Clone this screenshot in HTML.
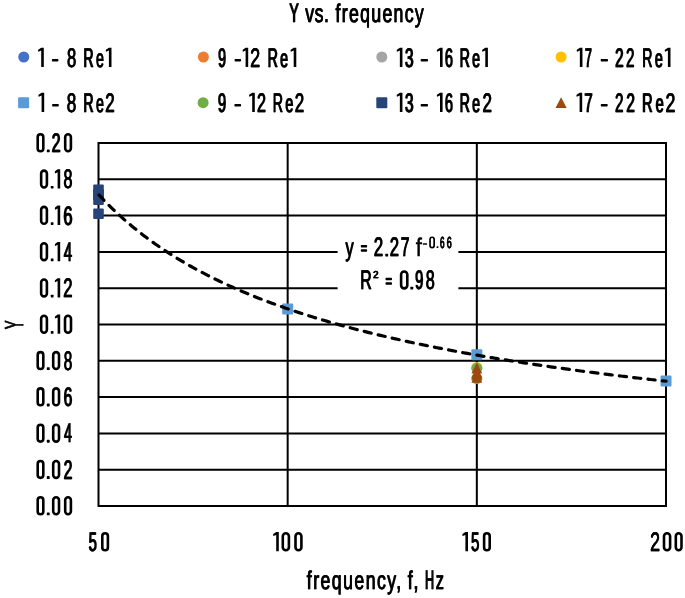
<!DOCTYPE html>
<html><head><meta charset="utf-8"><style>
html,body{margin:0;padding:0;background:#fff;overflow:hidden;}
svg{display:block;will-change:transform;}
text{text-rendering:geometricPrecision;font-family:"Liberation Sans",sans-serif;font-weight:normal;fill:#000;stroke:#000;stroke-width:0.5px;vector-effect:non-scaling-stroke;stroke-linejoin:round;}
</style></head><body>
<svg width="685" height="598" viewBox="0 0 685 598">
<rect width="685" height="598" fill="#fff"/>
<path d="M97.50 506.00H667.00M97.50 469.70H667.00M97.50 433.40H667.00M97.50 397.10H667.00M97.50 360.80H667.00M97.50 324.50H667.00M97.50 288.20H667.00M97.50 251.90H667.00M97.50 215.60H667.00M97.50 179.30H667.00M97.50 143.00H667.00M98.50 142.00V507.00M287.67 142.00V507.00M476.83 142.00V507.00M666.00 142.00V507.00" stroke="#000" stroke-width="2" fill="none"/>
<rect x="93.00" y="189.00" width="11" height="11" rx="1" fill="#5B9BD5"/><rect x="93.20" y="184.40" width="10.6" height="10.6" rx="1" fill="#264478"/><rect x="93.20" y="189.40" width="10.6" height="10.6" rx="1" fill="#264478"/><rect x="93.20" y="194.40" width="10.6" height="10.6" rx="1" fill="#264478"/><rect x="93.20" y="208.40" width="10.6" height="10.6" rx="1" fill="#264478"/><rect x="282.17" y="303.50" width="11" height="11" rx="1" fill="#5B9BD5"/><rect x="471.33" y="349.30" width="11" height="11" rx="1" fill="#5B9BD5"/><rect x="660.50" y="375.50" width="11" height="11" rx="1" fill="#5B9BD5"/><circle cx="476.83" cy="367.40" r="5.5" fill="#FFC000"/><circle cx="476.83" cy="368.30" r="5.5" fill="#70AD47"/><circle cx="476.83" cy="378.50" r="5.5" fill="#70AD47"/><path d="M476.83 362.60L482.23 373.40L471.43 373.40Z" fill="#9E480E"/><path d="M476.83 366.90L482.23 377.70L471.43 377.70Z" fill="#9E480E"/><path d="M476.83 368.70L482.23 379.50L471.43 379.50Z" fill="#9E480E"/><path d="M476.83 372.00L482.23 382.80L471.43 382.80Z" fill="#9E480E"/>
<path d="M98.50,194.41 L100.39,196.45 L102.28,198.46 L104.17,200.43 L106.07,202.37 L107.96,204.28 L109.85,206.17 L111.74,208.02 L113.63,209.84 L115.53,211.64 L117.42,213.41 L119.31,215.15 L121.20,216.87 L123.09,218.56 L124.98,220.22 L126.88,221.87 L128.77,223.49 L130.66,225.08 L132.55,226.66 L134.44,228.21 L136.33,229.74 L138.22,231.25 L140.12,232.73 L142.01,234.20 L143.90,235.65 L145.79,237.08 L147.68,238.49 L149.57,239.88 L151.47,241.26 L153.36,242.61 L155.25,243.95 L157.14,245.27 L159.03,246.58 L160.93,247.87 L162.82,249.14 L164.71,250.40 L166.60,251.64 L168.49,252.87 L170.38,254.08 L172.28,255.28 L174.17,256.46 L176.06,257.63 L177.95,258.79 L179.84,259.93 L181.73,261.06 L183.62,262.17 L185.52,263.28 L187.41,264.37 L189.30,265.45 L191.19,266.51 L193.08,267.57 L194.97,268.61 L196.87,269.64 L198.76,270.67 L200.65,271.68 L202.54,272.67 L204.43,273.66 L206.32,274.64 L208.22,275.61 L210.11,276.56 L212.00,277.51 L213.89,278.45 L215.78,279.38 L217.68,280.30 L219.57,281.21 L221.46,282.11 L223.35,283.00 L225.24,283.88 L227.13,284.75 L229.03,285.62 L230.92,286.47 L232.81,287.32 L234.70,288.16 L236.59,288.99 L238.48,289.82 L240.38,290.63 L242.27,291.44 L244.16,292.24 L246.05,293.04 L247.94,293.82 L249.83,294.60 L251.72,295.37 L253.62,296.14 L255.51,296.89 L257.40,297.65 L259.29,298.39 L261.18,299.13 L263.07,299.86 L264.97,300.58 L266.86,301.30 L268.75,302.01 L270.64,302.72 L272.53,303.42 L274.43,304.11 L276.32,304.80 L278.21,305.48 L280.10,306.16 L281.99,306.83 L283.88,307.49 L285.77,308.15 L287.67,308.80 L289.56,309.45 L291.45,310.09 L293.34,310.73 L295.23,311.36 L297.12,311.99 L299.02,312.61 L300.91,313.23 L302.80,313.84 L304.69,314.45 L306.58,315.05 L308.48,315.65 L310.37,316.24 L312.26,316.83 L314.15,317.41 L316.04,317.99 L317.93,318.57 L319.82,319.14 L321.72,319.71 L323.61,320.27 L325.50,320.82 L327.39,321.38 L329.28,321.93 L331.18,322.47 L333.07,323.01 L334.96,323.55 L336.85,324.08 L338.74,324.61 L340.63,325.14 L342.52,325.66 L344.42,326.18 L346.31,326.69 L348.20,327.20 L350.09,327.71 L351.98,328.21 L353.88,328.71 L355.77,329.21 L357.66,329.70 L359.55,330.19 L361.44,330.68 L363.33,331.16 L365.23,331.64 L367.12,332.11 L369.01,332.59 L370.90,333.06 L372.79,333.52 L374.68,333.99 L376.57,334.45 L378.47,334.90 L380.36,335.36 L382.25,335.81 L384.14,336.25 L386.03,336.70 L387.93,337.14 L389.82,337.58 L391.71,338.02 L393.60,338.45 L395.49,338.88 L397.38,339.31 L399.27,339.73 L401.17,340.16 L403.06,340.58 L404.95,340.99 L406.84,341.41 L408.73,341.82 L410.62,342.23 L412.52,342.63 L414.41,343.04 L416.30,343.44 L418.19,343.84 L420.08,344.24 L421.98,344.63 L423.87,345.02 L425.76,345.41 L427.65,345.80 L429.54,346.18 L431.43,346.57 L433.32,346.95 L435.22,347.32 L437.11,347.70 L439.00,348.07 L440.89,348.44 L442.78,348.81 L444.68,349.18 L446.57,349.54 L448.46,349.91 L450.35,350.27 L452.24,350.63 L454.13,350.98 L456.02,351.34 L457.92,351.69 L459.81,352.04 L461.70,352.39 L463.59,352.73 L465.48,353.08 L467.38,353.42 L469.27,353.76 L471.16,354.10 L473.05,354.43 L474.94,354.77 L476.83,355.10 L478.73,355.43 L480.62,355.76 L482.51,356.09 L484.40,356.42 L486.29,356.74 L488.18,357.06 L490.07,357.38 L491.97,357.70 L493.86,358.02 L495.75,358.33 L497.64,358.65 L499.53,358.96 L501.43,359.27 L503.32,359.58 L505.21,359.88 L507.10,360.19 L508.99,360.49 L510.88,360.80 L512.77,361.10 L514.67,361.40 L516.56,361.69 L518.45,361.99 L520.34,362.28 L522.23,362.58 L524.12,362.87 L526.02,363.16 L527.91,363.45 L529.80,363.73 L531.69,364.02 L533.58,364.30 L535.48,364.58 L537.37,364.87 L539.26,365.15 L541.15,365.42 L543.04,365.70 L544.93,365.98 L546.83,366.25 L548.72,366.52 L550.61,366.80 L552.50,367.07 L554.39,367.34 L556.28,367.60 L558.17,367.87 L560.07,368.14 L561.96,368.40 L563.85,368.66 L565.74,368.92 L567.63,369.18 L569.52,369.44 L571.42,369.70 L573.31,369.96 L575.20,370.21 L577.09,370.47 L578.98,370.72 L580.88,370.97 L582.77,371.22 L584.66,371.47 L586.55,371.72 L588.44,371.96 L590.33,372.21 L592.23,372.46 L594.12,372.70 L596.01,372.94 L597.90,373.18 L599.79,373.42 L601.68,373.66 L603.58,373.90 L605.47,374.14 L607.36,374.37 L609.25,374.61 L611.14,374.84 L613.03,375.07 L614.92,375.31 L616.82,375.54 L618.71,375.77 L620.60,376.00 L622.49,376.22 L624.38,376.45 L626.27,376.68 L628.17,376.90 L630.06,377.12 L631.95,377.35 L633.84,377.57 L635.73,377.79 L637.62,378.01 L639.52,378.23 L641.41,378.45 L643.30,378.66 L645.19,378.88 L647.08,379.09 L648.98,379.31 L650.87,379.52 L652.76,379.73 L654.65,379.95 L656.54,380.16 L658.43,380.37 L660.33,380.58 L662.22,380.78 L664.11,380.99 L666.00,381.20" stroke="#000" stroke-width="3.2" fill="none" stroke-dasharray="7.2 7.2" stroke-dashoffset="-0.8" stroke-linecap="round"/>
<rect x="337.6" y="226" width="120.8" height="72" fill="#fff"/>
<text transform="translate(345.20,256.35) scale(0.6085,0.956)" font-size="26.79">y</text>
<text transform="translate(345.73,256.35) scale(0.6085,0.956)" font-size="26.79">y</text>
<rect x="360.80" y="244.95" width="6.30" height="2.5" rx="0.75"/>
<rect x="360.80" y="249.25" width="6.30" height="2.5" rx="0.75"/>
<text transform="translate(373.60,256.35) scale(0.6325,1)" font-size="26.79">2</text>
<text transform="translate(374.08,256.35) scale(0.6325,1)" font-size="26.79">2</text>
<rect x="385.30" y="253.80" width="2.80" height="2.80" rx="0.56"/>
<text transform="translate(389.62,256.35) scale(0.6223,1)" font-size="26.79">2</text>
<text transform="translate(390.12,256.35) scale(0.6223,1)" font-size="26.79">2</text>
<text transform="translate(400.45,256.35) scale(0.5832,1)" font-size="26.79">7</text>
<text transform="translate(401.05,256.35) scale(0.5832,1)" font-size="26.79">7</text>
<text transform="translate(415.74,256.35) scale(0.8309,0.956)" font-size="26.79">f</text>
<rect x="422.90" y="243.15" width="4.20" height="1.7" rx="0.51"/>
<rect x="430.05" y="237.25" width="4.10" height="10.30" rx="2.05" fill="none" stroke="#000" stroke-width="1.7"/>
<rect x="436.60" y="246.30" width="1.80" height="1.80" rx="0.36"/>
<text transform="translate(439.84,247.85) scale(0.5061,1)" font-size="15.99">6</text>
<text transform="translate(440.31,247.85) scale(0.5061,1)" font-size="15.99">6</text>
<text transform="translate(446.60,247.85) scale(0.5565,1)" font-size="15.99">6</text>
<text transform="translate(446.99,247.85) scale(0.5565,1)" font-size="15.99">6</text>
<text transform="translate(359.95,289.25) scale(0.5937,1)" font-size="26.79">R</text>
<text transform="translate(360.51,289.25) scale(0.5937,1)" font-size="26.79">R</text>
<rect x="385.50" y="277.85" width="6.50" height="2.5" rx="0.75"/>
<rect x="385.50" y="282.15" width="6.50" height="2.5" rx="0.75"/>
<rect x="401.10" y="271.50" width="6.20" height="16.90" rx="3.10" fill="none" stroke="#000" stroke-width="2.6"/>
<rect x="410.40" y="286.70" width="2.80" height="2.80" rx="0.56"/>
<text transform="translate(414.85,289.25) scale(0.5522,1)" font-size="26.79">9</text>
<text transform="translate(415.52,289.25) scale(0.5522,1)" font-size="26.79">9</text>
<text transform="translate(425.56,289.25) scale(0.5994,1)" font-size="26.79">8</text>
<text transform="translate(426.11,289.25) scale(0.5994,1)" font-size="26.79">8</text>
<text transform="translate(373.06,278.15) scale(0.9653,1)" font-size="10.19">2</text>
<text transform="translate(373.27,278.15) scale(0.9653,1)" font-size="10.19">2</text>
<circle cx="23.75" cy="57.00" r="5.5" fill="#4472C4"/><circle cx="203.40" cy="57.00" r="5.5" fill="#ED7D31"/><circle cx="381.80" cy="57.00" r="5.5" fill="#A5A5A5"/><circle cx="561.10" cy="57.00" r="5.5" fill="#FFC000"/><rect x="18.10" y="97.20" width="11" height="11" rx="1" fill="#5B9BD5"/><circle cx="203.10" cy="102.70" r="5.5" fill="#70AD47"/><rect x="376.30" y="97.20" width="11" height="11" rx="1" fill="#264478"/><path d="M561.10 97.20L566.70 108.00L555.50 108.00Z" fill="#9E480E"/>
<text transform="translate(288.94,21.65) scale(0.5253,1)" font-size="26.79">Y</text>
<text transform="translate(289.67,21.65) scale(0.5253,1)" font-size="26.79">Y</text>
<text transform="translate(304.98,21.65) scale(0.6600,0.956)" font-size="26.79" style="letter-spacing:0.887px">vs.</text>
<text transform="translate(305.39,21.65) scale(0.6600,0.956)" font-size="26.79" style="letter-spacing:0.887px">vs.</text>
<text transform="translate(335.30,21.65) scale(0.6600,0.956)" font-size="26.79" style="letter-spacing:2.009px">frequency</text>
<text transform="translate(335.71,21.65) scale(0.6600,0.956)" font-size="26.79" style="letter-spacing:2.009px">frequency</text>
<path d="M41.20 47.70 L43.80 47.70 L43.80 67.00 L41.20 67.00 L41.20 50.60 L38.40 51.80 L38.00 51.00 L38.20 49.70Z"/>
<rect x="51.90" y="59.00" width="6.50" height="2.6" rx="0.78"/>
<text transform="translate(66.64,66.75) scale(0.6190,1)" font-size="26.79">8</text>
<text transform="translate(67.14,66.75) scale(0.6190,1)" font-size="26.79">8</text>
<text transform="translate(83.09,66.75) scale(0.5270,1)" font-size="26.79">R</text>
<text transform="translate(83.82,66.75) scale(0.5270,1)" font-size="26.79">R</text>
<text transform="translate(95.65,66.75) scale(0.5308,0.956)" font-size="26.79">e</text>
<text transform="translate(96.37,66.75) scale(0.5308,0.956)" font-size="26.79">e</text>
<path d="M108.90 47.70 L111.50 47.70 L111.50 67.00 L108.90 67.00 L108.90 50.60 L106.10 51.80 L105.70 51.00 L105.90 49.70Z"/>
<text transform="translate(217.68,66.75) scale(0.5322,1)" font-size="26.79">9</text>
<text transform="translate(218.40,66.75) scale(0.5322,1)" font-size="26.79">9</text>
<rect x="234.60" y="59.00" width="6.50" height="2.6" rx="0.78"/>
<path d="M245.60 47.70 L248.20 47.70 L248.20 67.00 L245.60 67.00 L245.60 50.60 L243.00 51.80 L242.60 51.00 L242.80 49.70Z"/>
<text transform="translate(249.95,66.75) scale(0.6733,1)" font-size="26.79">2</text>
<text transform="translate(250.32,66.75) scale(0.6733,1)" font-size="26.79">2</text>
<text transform="translate(267.19,66.75) scale(0.5270,1)" font-size="26.79">R</text>
<text transform="translate(267.92,66.75) scale(0.5270,1)" font-size="26.79">R</text>
<text transform="translate(279.75,66.75) scale(0.5308,0.956)" font-size="26.79">e</text>
<text transform="translate(280.47,66.75) scale(0.5308,0.956)" font-size="26.79">e</text>
<path d="M293.70 47.70 L296.30 47.70 L296.30 67.00 L293.70 67.00 L293.70 50.60 L290.90 51.80 L290.50 51.00 L290.70 49.70Z"/>
<path d="M399.85 47.70 L402.45 47.70 L402.45 67.00 L399.85 67.00 L399.85 50.60 L397.05 51.80 L396.65 51.00 L396.85 49.70Z"/>
<text transform="translate(404.56,66.75) scale(0.5835,1)" font-size="26.79">3</text>
<text transform="translate(405.15,66.75) scale(0.5835,1)" font-size="26.79">3</text>
<rect x="420.70" y="59.00" width="7.30" height="2.6" rx="0.78"/>
<path d="M440.00 47.70 L442.60 47.70 L442.60 67.00 L440.00 67.00 L440.00 50.60 L437.20 51.80 L436.80 51.00 L437.00 49.70Z"/>
<text transform="translate(444.51,66.75) scale(0.5436,1)" font-size="26.79">6</text>
<text transform="translate(445.20,66.75) scale(0.5436,1)" font-size="26.79">6</text>
<text transform="translate(459.29,66.75) scale(0.5270,1)" font-size="26.79">R</text>
<text transform="translate(460.02,66.75) scale(0.5270,1)" font-size="26.79">R</text>
<text transform="translate(471.85,66.75) scale(0.5308,0.956)" font-size="26.79">e</text>
<text transform="translate(472.57,66.75) scale(0.5308,0.956)" font-size="26.79">e</text>
<path d="M485.30 47.70 L487.90 47.70 L487.90 67.00 L485.30 67.00 L485.30 50.60 L482.50 51.80 L482.10 51.00 L482.30 49.70Z"/>
<path d="M579.85 47.70 L582.45 47.70 L582.45 67.00 L579.85 67.00 L579.85 50.60 L577.05 51.80 L576.65 51.00 L576.85 49.70Z"/>
<text transform="translate(584.51,66.75) scale(0.4709,1)" font-size="26.79">7</text>
<text transform="translate(585.37,66.75) scale(0.4709,1)" font-size="26.79">7</text>
<rect x="600.70" y="59.00" width="7.30" height="2.6" rx="0.78"/>
<text transform="translate(614.79,66.75) scale(0.5700,1)" font-size="26.79" style="letter-spacing:4.243px">22</text>
<text transform="translate(615.41,66.75) scale(0.5700,1)" font-size="26.79" style="letter-spacing:4.243px">22</text>
<text transform="translate(641.89,66.75) scale(0.5270,1)" font-size="26.79">R</text>
<text transform="translate(642.62,66.75) scale(0.5270,1)" font-size="26.79">R</text>
<text transform="translate(654.45,66.75) scale(0.5308,0.956)" font-size="26.79">e</text>
<text transform="translate(655.17,66.75) scale(0.5308,0.956)" font-size="26.79">e</text>
<path d="M667.90 47.70 L670.50 47.70 L670.50 67.00 L667.90 67.00 L667.90 50.60 L665.10 51.80 L664.70 51.00 L664.90 49.70Z"/>
<path d="M41.60 92.70 L44.20 92.70 L44.20 112.00 L41.60 112.00 L41.60 95.60 L38.80 96.80 L38.40 96.00 L38.60 94.70Z"/>
<rect x="52.10" y="104.00" width="6.70" height="2.6" rx="0.78"/>
<text transform="translate(66.51,111.75) scale(0.6387,1)" font-size="26.79">8</text>
<text transform="translate(66.97,111.75) scale(0.6387,1)" font-size="26.79">8</text>
<text transform="translate(83.09,111.75) scale(0.5270,1)" font-size="26.79">R</text>
<text transform="translate(83.82,111.75) scale(0.5270,1)" font-size="26.79">R</text>
<text transform="translate(95.65,111.75) scale(0.5308,0.956)" font-size="26.79">e</text>
<text transform="translate(96.37,111.75) scale(0.5308,0.956)" font-size="26.79">e</text>
<text transform="translate(105.10,111.75) scale(0.6325,1)" font-size="26.79">2</text>
<text transform="translate(105.58,111.75) scale(0.6325,1)" font-size="26.79">2</text>
<text transform="translate(217.60,111.75) scale(0.5572,1)" font-size="26.79">9</text>
<text transform="translate(218.25,111.75) scale(0.5572,1)" font-size="26.79">9</text>
<rect x="234.40" y="104.00" width="6.70" height="2.6" rx="0.78"/>
<path d="M252.20 92.70 L254.80 92.70 L254.80 112.00 L252.20 112.00 L252.20 95.60 L249.40 96.80 L249.00 96.00 L249.20 94.70Z"/>
<text transform="translate(256.64,111.75) scale(0.6020,1)" font-size="26.79">2</text>
<text transform="translate(257.19,111.75) scale(0.6020,1)" font-size="26.79">2</text>
<text transform="translate(272.39,111.75) scale(0.5270,1)" font-size="26.79">R</text>
<text transform="translate(273.12,111.75) scale(0.5270,1)" font-size="26.79">R</text>
<text transform="translate(284.95,111.75) scale(0.5308,0.956)" font-size="26.79">e</text>
<text transform="translate(285.67,111.75) scale(0.5308,0.956)" font-size="26.79">e</text>
<text transform="translate(294.50,111.75) scale(0.6325,1)" font-size="26.79">2</text>
<text transform="translate(294.98,111.75) scale(0.6325,1)" font-size="26.79">2</text>
<path d="M399.85 92.70 L402.45 92.70 L402.45 112.00 L399.85 112.00 L399.85 95.60 L397.05 96.80 L396.65 96.00 L396.85 94.70Z"/>
<text transform="translate(404.56,111.75) scale(0.5835,1)" font-size="26.79">3</text>
<text transform="translate(405.15,111.75) scale(0.5835,1)" font-size="26.79">3</text>
<rect x="420.70" y="104.00" width="7.30" height="2.6" rx="0.78"/>
<path d="M440.00 92.70 L442.60 92.70 L442.60 112.00 L440.00 112.00 L440.00 95.60 L437.20 96.80 L436.80 96.00 L437.00 94.70Z"/>
<text transform="translate(444.51,111.75) scale(0.5436,1)" font-size="26.79">6</text>
<text transform="translate(445.20,111.75) scale(0.5436,1)" font-size="26.79">6</text>
<text transform="translate(459.29,111.75) scale(0.5270,1)" font-size="26.79">R</text>
<text transform="translate(460.02,111.75) scale(0.5270,1)" font-size="26.79">R</text>
<text transform="translate(471.85,111.75) scale(0.5308,0.956)" font-size="26.79">e</text>
<text transform="translate(472.57,111.75) scale(0.5308,0.956)" font-size="26.79">e</text>
<text transform="translate(482.20,111.75) scale(0.6325,1)" font-size="26.79">2</text>
<text transform="translate(482.68,111.75) scale(0.6325,1)" font-size="26.79">2</text>
<path d="M579.60 92.70 L582.20 92.70 L582.20 112.00 L579.60 112.00 L579.60 95.60 L576.80 96.80 L576.40 96.00 L576.60 94.70Z"/>
<text transform="translate(584.09,111.75) scale(0.5526,1)" font-size="26.79">7</text>
<text transform="translate(584.76,111.75) scale(0.5526,1)" font-size="26.79">7</text>
<rect x="600.80" y="104.00" width="6.90" height="2.6" rx="0.78"/>
<text transform="translate(614.69,111.75) scale(0.5700,1)" font-size="26.79" style="letter-spacing:5.121px">22</text>
<text transform="translate(615.31,111.75) scale(0.5700,1)" font-size="26.79" style="letter-spacing:5.121px">22</text>
<text transform="translate(641.76,111.75) scale(0.5418,1)" font-size="26.79">R</text>
<text transform="translate(642.45,111.75) scale(0.5418,1)" font-size="26.79">R</text>
<text transform="translate(655.24,111.75) scale(0.5406,0.956)" font-size="26.79">e</text>
<text transform="translate(655.94,111.75) scale(0.5406,0.956)" font-size="26.79">e</text>
<text transform="translate(665.26,111.75) scale(0.6631,1)" font-size="26.79">2</text>
<text transform="translate(665.66,111.75) scale(0.6631,1)" font-size="26.79">2</text>
<rect x="37.70" y="497.30" width="5.60" height="16.90" rx="2.80" fill="none" stroke="#000" stroke-width="2.6"/>
<rect x="46.80" y="512.40" width="2.90" height="2.90" rx="0.58"/>
<rect x="53.20" y="497.30" width="5.80" height="16.90" rx="2.90" fill="none" stroke="#000" stroke-width="2.6"/>
<rect x="65.20" y="497.30" width="5.70" height="16.90" rx="2.85" fill="none" stroke="#000" stroke-width="2.6"/>
<rect x="37.70" y="461.00" width="5.60" height="16.90" rx="2.80" fill="none" stroke="#000" stroke-width="2.6"/>
<rect x="46.80" y="476.10" width="2.90" height="2.90" rx="0.58"/>
<rect x="53.20" y="461.00" width="5.80" height="16.90" rx="2.90" fill="none" stroke="#000" stroke-width="2.6"/>
<text transform="translate(63.36,478.75) scale(0.5918,1)" font-size="26.79">2</text>
<text transform="translate(63.93,478.75) scale(0.5918,1)" font-size="26.79">2</text>
<rect x="37.70" y="424.70" width="5.60" height="16.90" rx="2.80" fill="none" stroke="#000" stroke-width="2.6"/>
<rect x="46.80" y="439.80" width="2.90" height="2.90" rx="0.58"/>
<rect x="53.20" y="424.70" width="5.80" height="16.90" rx="2.90" fill="none" stroke="#000" stroke-width="2.6"/>
<text transform="translate(63.83,442.45) scale(0.5232,1)" font-size="26.79">4</text>
<text transform="translate(64.57,442.45) scale(0.5232,1)" font-size="26.79">4</text>
<rect x="37.70" y="388.40" width="5.60" height="16.90" rx="2.80" fill="none" stroke="#000" stroke-width="2.6"/>
<rect x="46.80" y="403.50" width="2.90" height="2.90" rx="0.58"/>
<rect x="53.20" y="388.40" width="5.80" height="16.90" rx="2.90" fill="none" stroke="#000" stroke-width="2.6"/>
<text transform="translate(63.35,406.15) scale(0.5838,1)" font-size="26.79">6</text>
<text transform="translate(63.94,406.15) scale(0.5838,1)" font-size="26.79">6</text>
<rect x="37.70" y="352.10" width="5.60" height="16.90" rx="2.80" fill="none" stroke="#000" stroke-width="2.6"/>
<rect x="46.80" y="367.20" width="2.90" height="2.90" rx="0.58"/>
<rect x="53.20" y="352.10" width="5.80" height="16.90" rx="2.90" fill="none" stroke="#000" stroke-width="2.6"/>
<text transform="translate(63.49,369.85) scale(0.5700,1)" font-size="26.79">8</text>
<text transform="translate(64.12,369.85) scale(0.5700,1)" font-size="26.79">8</text>
<rect x="41.15" y="315.80" width="5.75" height="16.90" rx="2.88" fill="none" stroke="#000" stroke-width="2.6"/>
<rect x="50.80" y="331.10" width="2.70" height="2.70" rx="0.54"/>
<path d="M57.60 314.50 L60.20 314.50 L60.20 333.80 L57.60 333.80 L57.60 317.40 L55.20 318.60 L54.80 317.80 L55.00 316.50Z"/>
<rect x="65.00" y="315.80" width="6.00" height="16.90" rx="3.00" fill="none" stroke="#000" stroke-width="2.6"/>
<rect x="41.15" y="279.50" width="5.75" height="16.90" rx="2.88" fill="none" stroke="#000" stroke-width="2.6"/>
<rect x="50.80" y="294.80" width="2.70" height="2.70" rx="0.54"/>
<path d="M57.60 278.20 L60.20 278.20 L60.20 297.50 L57.60 297.50 L57.60 281.10 L55.20 282.30 L54.80 281.50 L55.00 280.20Z"/>
<text transform="translate(63.12,297.25) scale(0.6223,1)" font-size="26.79">2</text>
<text transform="translate(63.62,297.25) scale(0.6223,1)" font-size="26.79">2</text>
<rect x="41.15" y="243.20" width="5.75" height="16.90" rx="2.88" fill="none" stroke="#000" stroke-width="2.6"/>
<rect x="50.80" y="258.50" width="2.70" height="2.70" rx="0.54"/>
<path d="M57.60 241.90 L60.20 241.90 L60.20 261.20 L57.60 261.20 L57.60 244.80 L55.20 246.00 L54.80 245.20 L55.00 243.90Z"/>
<text transform="translate(63.61,260.95) scale(0.5502,1)" font-size="26.79">4</text>
<text transform="translate(64.28,260.95) scale(0.5502,1)" font-size="26.79">4</text>
<rect x="41.15" y="206.90" width="5.75" height="16.90" rx="2.88" fill="none" stroke="#000" stroke-width="2.6"/>
<rect x="50.80" y="222.20" width="2.70" height="2.70" rx="0.54"/>
<path d="M57.60 205.60 L60.20 205.60 L60.20 224.90 L57.60 224.90 L57.60 208.50 L55.20 209.70 L54.80 208.90 L55.00 207.60Z"/>
<text transform="translate(63.11,224.65) scale(0.6140,1)" font-size="26.79">6</text>
<text transform="translate(63.63,224.65) scale(0.6140,1)" font-size="26.79">6</text>
<rect x="41.15" y="170.60" width="5.75" height="16.90" rx="2.88" fill="none" stroke="#000" stroke-width="2.6"/>
<rect x="50.80" y="185.90" width="2.70" height="2.70" rx="0.54"/>
<path d="M57.60 169.30 L60.20 169.30 L60.20 188.60 L57.60 188.60 L57.60 172.20 L55.20 173.40 L54.80 172.60 L55.00 171.30Z"/>
<text transform="translate(63.26,188.35) scale(0.5994,1)" font-size="26.79">8</text>
<text transform="translate(63.81,188.35) scale(0.5994,1)" font-size="26.79">8</text>
<rect x="37.70" y="134.30" width="5.60" height="16.90" rx="2.80" fill="none" stroke="#000" stroke-width="2.6"/>
<rect x="46.80" y="149.40" width="2.90" height="2.90" rx="0.58"/>
<text transform="translate(51.34,152.05) scale(0.6020,1)" font-size="26.79">2</text>
<text transform="translate(51.89,152.05) scale(0.6020,1)" font-size="26.79">2</text>
<rect x="65.20" y="134.30" width="5.70" height="16.90" rx="2.85" fill="none" stroke="#000" stroke-width="2.6"/>
<text transform="translate(88.26,551.05) scale(0.5544,1)" font-size="26.79">5</text>
<text transform="translate(88.92,551.05) scale(0.5544,1)" font-size="26.79">5</text>
<rect x="102.30" y="533.30" width="5.60" height="16.90" rx="2.80" fill="none" stroke="#000" stroke-width="2.6"/>
<path d="M276.20 532.00 L278.80 532.00 L278.80 551.30 L276.20 551.30 L276.20 534.90 L273.50 536.10 L273.10 535.30 L273.30 534.00Z"/>
<rect x="282.80" y="533.30" width="6.10" height="16.90" rx="3.05" fill="none" stroke="#000" stroke-width="2.6"/>
<rect x="295.50" y="533.30" width="5.90" height="16.90" rx="2.95" fill="none" stroke="#000" stroke-width="2.6"/>
<path d="M465.40 532.00 L468.00 532.00 L468.00 551.30 L465.40 551.30 L465.40 534.90 L462.70 536.10 L462.30 535.30 L462.50 534.00Z"/>
<text transform="translate(470.65,551.05) scale(0.5641,1)" font-size="26.79">5</text>
<text transform="translate(471.29,551.05) scale(0.5641,1)" font-size="26.79">5</text>
<rect x="484.10" y="533.30" width="5.60" height="16.90" rx="2.80" fill="none" stroke="#000" stroke-width="2.6"/>
<text transform="translate(649.96,551.05) scale(0.6631,1)" font-size="26.79">2</text>
<text transform="translate(650.36,551.05) scale(0.6631,1)" font-size="26.79">2</text>
<rect x="664.00" y="533.30" width="6.10" height="16.90" rx="3.05" fill="none" stroke="#000" stroke-width="2.6"/>
<rect x="675.80" y="533.30" width="5.70" height="16.90" rx="2.85" fill="none" stroke="#000" stroke-width="2.6"/>
<text transform="translate(306.60,588.65) scale(0.6600,0.956)" font-size="26.79" style="letter-spacing:2.218px">frequency,</text>
<text transform="translate(307.01,588.65) scale(0.6600,0.956)" font-size="26.79" style="letter-spacing:2.218px">frequency,</text>
<text transform="translate(407.60,588.65) scale(0.6600,0.956)" font-size="26.79" style="letter-spacing:1.210px">f,</text>
<text transform="translate(408.01,588.65) scale(0.6600,0.956)" font-size="26.79" style="letter-spacing:1.210px">f,</text>
<text transform="translate(424.64,588.65) scale(0.4618,1)" font-size="26.79">H</text>
<text transform="translate(425.52,588.65) scale(0.4618,1)" font-size="26.79">H</text>
<text transform="translate(435.48,588.65) scale(0.6089,0.956)" font-size="26.79">z</text>
<text transform="translate(436.01,588.65) scale(0.6089,0.956)" font-size="26.79">z</text>
<text transform="translate(22.85,329.24) rotate(-90) scale(0.5135,1)" font-size="25.95" style="stroke-width:1.1px">Y</text>
</svg>
</body></html>
